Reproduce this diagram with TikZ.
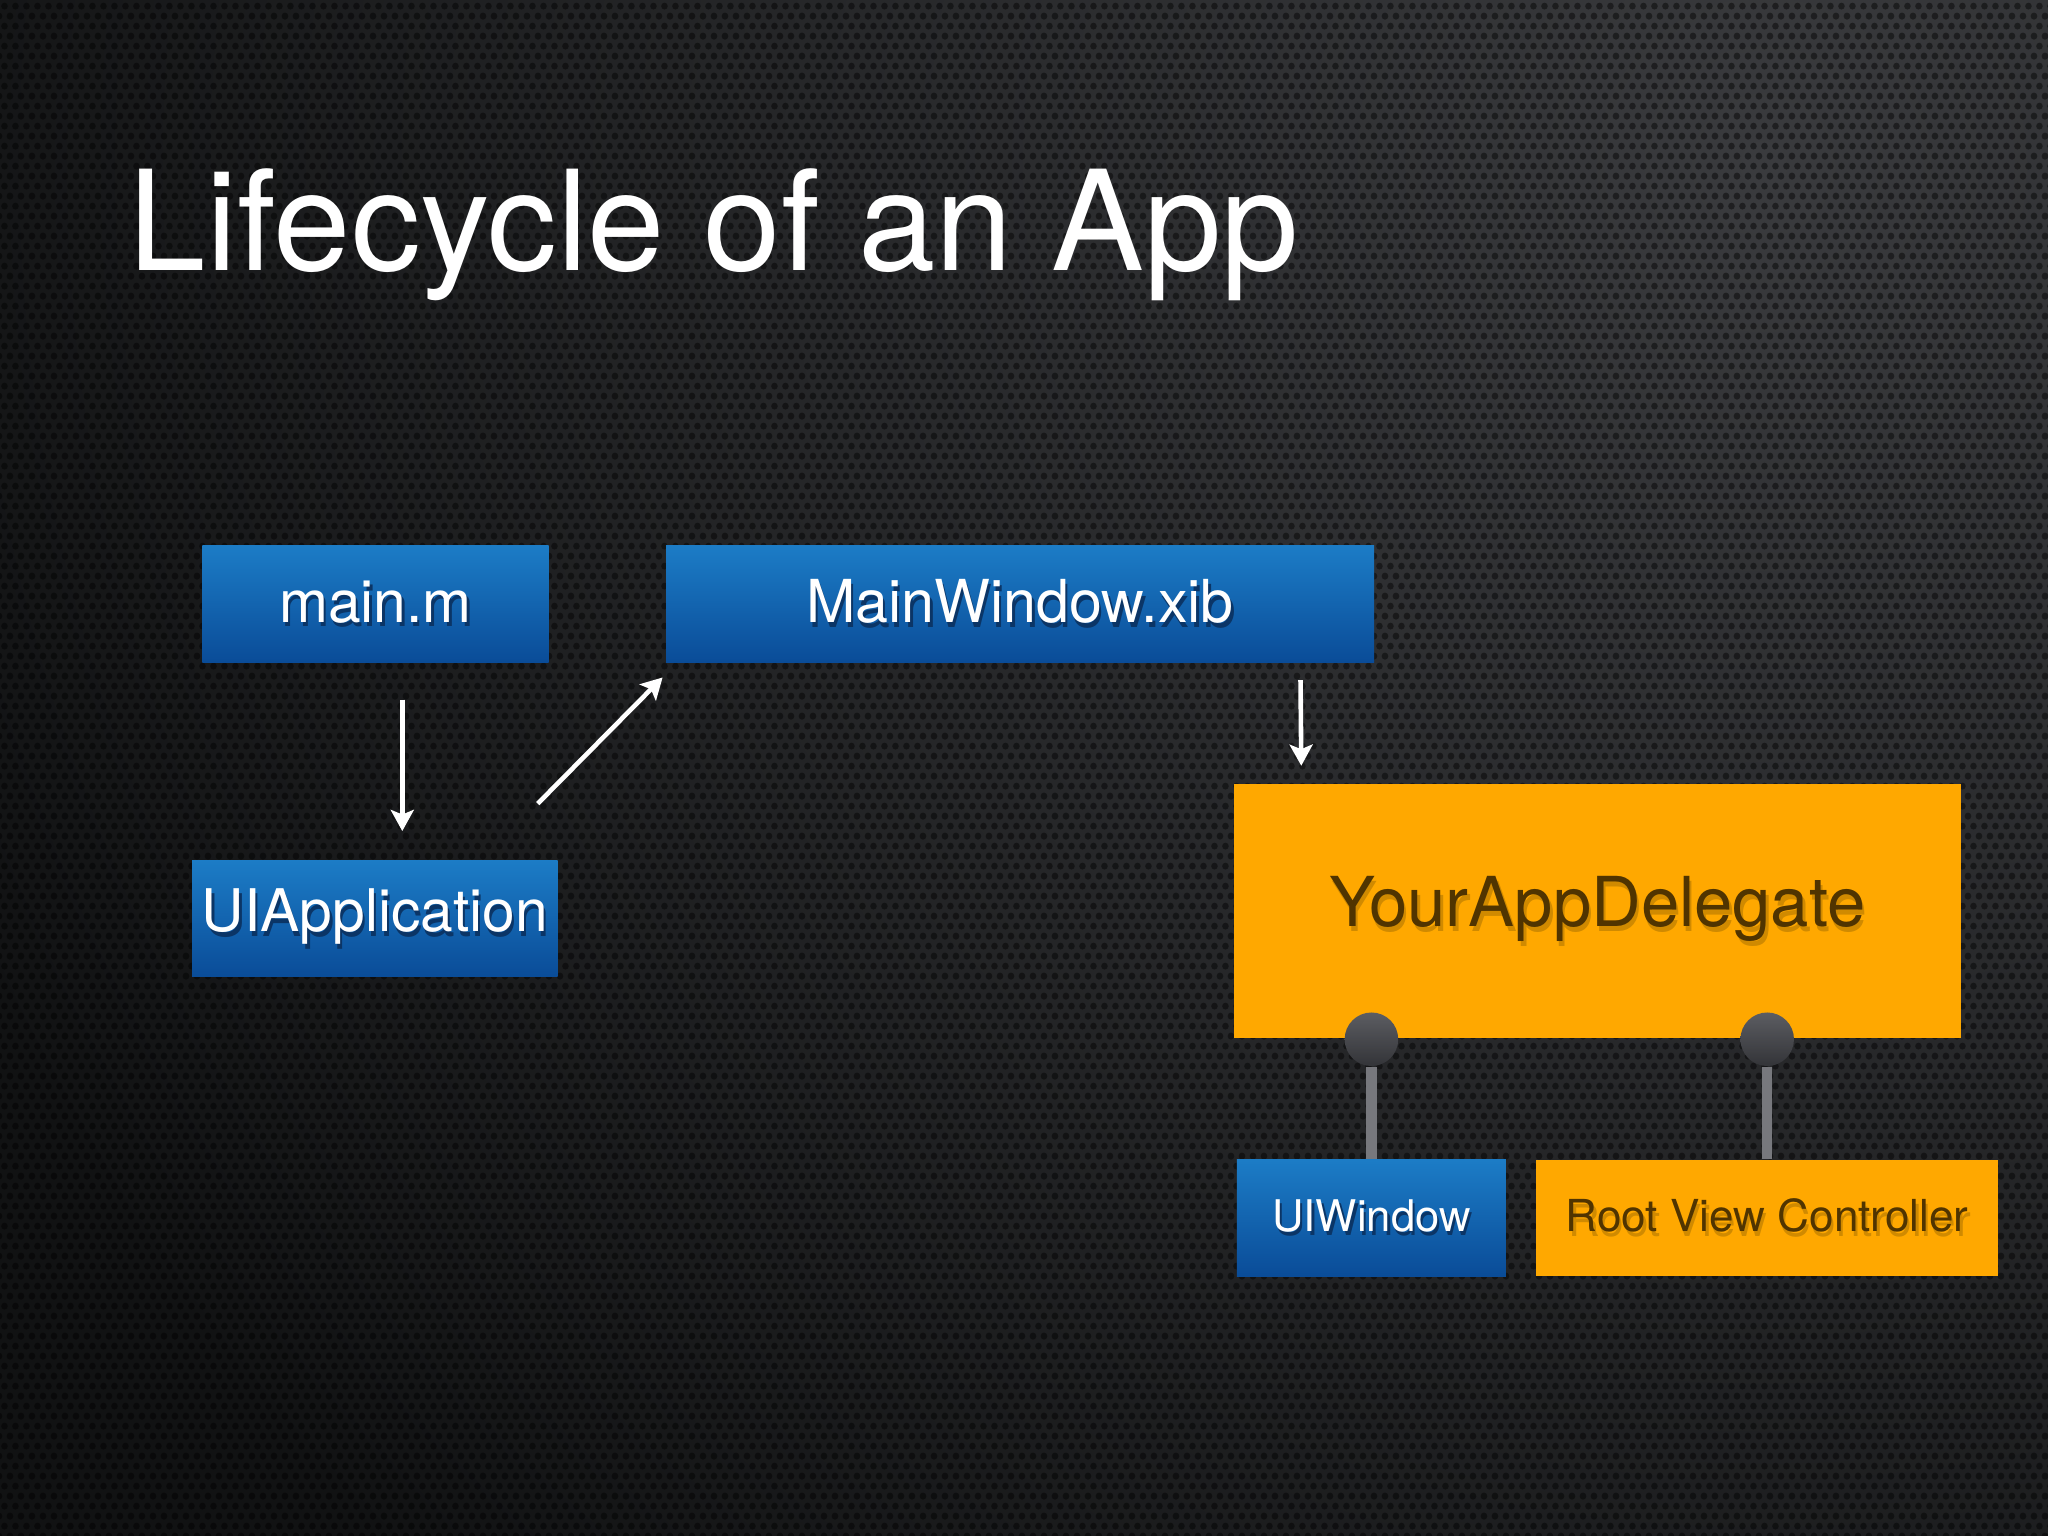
\documentclass[tikz,border=0pt]{standalone}
\usepackage{fontspec}
\setmainfont{TeX Gyre Heros}
\usetikzlibrary{arrows.meta,patterns.meta,calc}
\definecolor{bgdark}{HTML}{111213}
\definecolor{bglight}{HTML}{3A3B3E}
\definecolor{bluetop}{HTML}{1C7CC6}
\definecolor{bluebot}{HTML}{0A4C98}
\definecolor{orangefill}{HTML}{FFA800}
\definecolor{browntext}{HTML}{503400}
\definecolor{brownshadow}{HTML}{D08A00}
\definecolor{blueshadow}{HTML}{0B3566}
\definecolor{knobtop}{HTML}{5C5D62}
\definecolor{knobbot}{HTML}{333438}
\definecolor{stemgray}{HTML}{77787D}
\newcommand\shblue[1]{\rlap{\color{blueshadow}\kern0.5pt\raisebox{-1pt}{#1}}#1}
\newcommand\shbrown[1]{\rlap{\color{brownshadow}\kern0.5pt\raisebox{-1.1pt}{#1}}#1}
\tikzdeclarepattern{name=holes, type=uncolored,
  bounding box={(0,0) and (2.5pt,4.33pt)}, tile size={(2.5pt,4.33pt)},
  code={\fill (0,0) circle (0.75pt); \fill (2.5pt,0) circle (0.75pt);
        \fill (0,4.33pt) circle (0.75pt); \fill (2.5pt,4.33pt) circle (0.75pt);
        \fill (1.25pt,2.165pt) circle (0.75pt);}}
\tikzset{
  bluebox/.style={rectangle, inner sep=0pt, top color=bluetop, bottom color=bluebot, text=white},
  orangebox/.style={rectangle, inner sep=0pt, fill=orangefill, text=browntext},
  arr/.style={draw=white, line width=1pt, -{Stealth[length=4.6pt, width=5pt, inset=1pt]}},
  knob/.style={circle, inner sep=0pt, minimum size=0.41cm, top color=knobtop, bottom color=knobbot},
  stemline/.style={draw=stemgray, line width=2.2pt},
}
\begin{document}
\begin{tikzpicture}
\useasboundingbox (0,0) rectangle (15.68,11.76);
\fill[bgdark] (0,0) rectangle (15.68,11.76);
\begin{scope}
  \clip (0,0) rectangle (15.68,11.76);
  \shade[inner color=bglight, outer color=bgdark] (13.5,10.5) circle (15);
  \fill[pattern=holes, pattern color=black, opacity=0.45] (0,0) rectangle (15.68,11.76);
\end{scope}

\node[anchor=base west, text=white, font=\fontsize{30.3}{36}\selectfont, inner sep=0pt] (title) at (0.98,9.69) {Lifecycle of an App};

\node[bluebox, minimum width=2.65cm, minimum height=0.89cm, font=\fontsize{12.8}{15}\selectfont] (mainm) at (2.875,7.135) {\shblue{main.m}};
\node[bluebox, minimum width=5.42cm, minimum height=0.89cm, font=\fontsize{12.9}{15}\selectfont] (mainwin) at (7.81,7.135) {\shblue{MainWindow.xib}};
\node[bluebox, minimum width=2.80cm, minimum height=0.89cm, font=\fontsize{12.8}{15}\selectfont] (uiapp) at (2.87,4.725) {\shblue{UIApplication}};
\node[orangebox, minimum width=5.56cm, minimum height=1.95cm, font=\fontsize{15}{18}\selectfont] (delegate) at (12.23,4.785) {\shbrown{YourAppDelegate}};
\node[bluebox, minimum width=2.06cm, minimum height=0.89cm, font=\fontsize{9.5}{12}\selectfont] (uiwin) at (10.50,2.435) {\shblue{UIWindow}};
\node[orangebox, minimum width=3.54cm, minimum height=0.89cm, font=\fontsize{9.6}{12}\selectfont] (rvc) at (13.53,2.435) {\shbrown{Root View Controller}};

\draw[arr] ($(mainm.south)+(0.205,-0.28)$) -- ($(uiapp.north)+(0.21,0.22)$);
\draw[arr] ($(uiapp.north east)+(-0.16,0.43)$) -- ($(mainwin.south west)+(-0.02,-0.11)$);
\draw[arr] ($(mainwin.south east)+(-0.57,-0.13)$) -- ($(delegate.north west)+(0.52,0.13)$);

\node[knob] (k1) at (uiwin.north |- delegate.south) {};
\node[knob] (k2) at (rvc.north |- delegate.south) {};
\draw[stemline] (k1) -- (uiwin);
\draw[stemline] (k2) -- (rvc);
\end{tikzpicture}
\end{document}
